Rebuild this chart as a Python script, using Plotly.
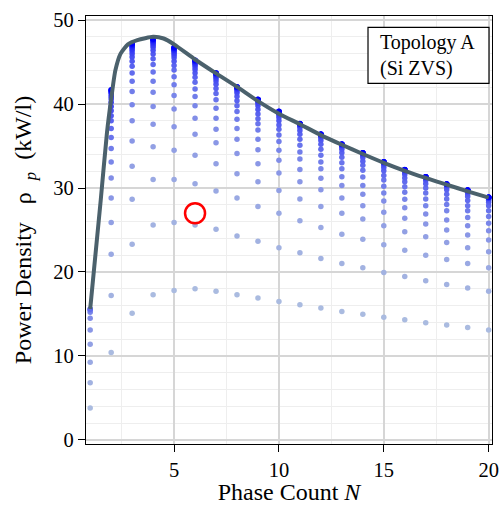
import plotly.graph_objects as go

# ---------------- data ----------------
phase_count = list(range(1, 21))

rho_N01 = [3.8, 6.8, 9.25, 11.4, 13.1, 14.5, 15.2, 15.45, 15.55, 15.6]
rho_N02 = [10.4, 17.2, 22.1, 25.9, 28.8, 31.2, 33.1, 34.7, 36.0, 37.1, 38.0, 38.6, 39.2, 39.7, 40.2, 40.6, 40.9, 41.2, 41.4, 41.55, 41.65, 41.7]
rho_N03 = [15.1, 23.3, 28.65, 32.6, 35.6, 38.0, 39.9, 41.5, 42.7, 43.7, 44.5, 45.1, 45.6, 46.0, 46.3, 46.55, 46.75, 46.9, 47.0, 47.1, 47.15, 47.2]
rho_N04 = [17.3, 25.6, 31.0, 34.9, 37.6, 39.7, 41.4, 42.7, 43.8, 44.7, 45.4, 45.95, 46.4, 46.75, 47.0, 47.2, 47.35, 47.5, 47.6, 47.65, 47.7, 47.75]
rho_N05 = [17.8, 25.9, 31.0, 34.5, 37.3, 39.4, 41.0, 42.3, 43.25, 44.05, 44.6, 45.1, 45.5, 45.8, 46.05, 46.25, 46.4, 46.5, 46.6, 46.65, 46.7, 46.75]
rho_N06 = [18.0, 25.6, 30.5, 33.9, 36.4, 38.3, 39.8, 40.9, 41.8, 42.6, 43.2, 43.7, 44.1, 44.4, 44.65, 44.8, 44.95, 45.05, 45.1, 45.15, 45.2, 45.22]
rho_N07 = [17.7, 25.1, 29.65, 32.9, 35.4, 37.0, 38.3, 39.5, 40.5, 41.25, 41.85, 42.35, 42.75, 43.05, 43.25, 43.4, 43.5, 43.58, 43.62, 43.66, 43.68, 43.7]
rho_N08 = [17.3, 24.3, 28.8, 31.7, 34.1, 35.8, 37.1, 38.2, 39.1, 39.8, 40.4, 40.9, 41.3, 41.55, 41.75, 41.85, 41.92, 41.97, 42.0, 42.02, 42.04, 42.05]
rho_N09 = [16.9, 23.65, 27.8, 30.75, 32.9, 34.55, 35.8, 36.9, 37.65, 38.25, 38.8, 39.35, 39.8, 40.1, 40.3, 40.4, 40.45, 40.5, 40.52, 40.54, 40.55, 40.56]
rho_N10 = [16.5, 22.9, 27.0, 29.7, 31.8, 33.3, 34.5, 35.55, 36.3, 37.0, 37.5, 38.0, 38.4, 38.7, 38.85, 38.95, 39.0, 39.05, 39.08, 39.1, 39.12, 39.14]
rho_N11 = [16.1, 22.3, 26.1, 28.7, 30.75, 32.2, 33.45, 34.3, 35.1, 35.8, 36.4, 36.85, 37.2, 37.4, 37.5, 37.55, 37.6, 37.62, 37.64, 37.65, 37.66, 37.67]
rho_N12 = [15.7, 21.6, 25.3, 27.8, 29.8, 31.15, 32.3, 33.1, 33.9, 34.6, 35.2, 35.65, 35.95, 36.15, 36.25, 36.3, 36.33, 36.36, 36.38, 36.4, 36.41, 36.42]
rho_N13 = [15.3, 21.0, 24.5, 27.0, 28.8, 30.3, 31.35, 32.3, 33.0, 33.65, 34.2, 34.6, 34.85, 35.0, 35.08, 35.13, 35.16, 35.18, 35.2, 35.21, 35.22, 35.23]
rho_N14 = [14.96, 20.5, 23.9, 26.3, 27.9, 29.25, 30.3, 31.3, 32.1, 32.7, 33.2, 33.6, 33.85, 34.0, 34.07, 34.11, 34.14, 34.16, 34.17, 34.18, 34.19, 34.2]
rho_N15 = [14.6, 19.95, 23.25, 25.5, 27.1, 28.45, 29.4, 30.2, 30.95, 31.5, 32.05, 32.45, 32.75, 32.9, 32.98, 33.03, 33.06, 33.08, 33.1, 33.11, 33.12, 33.13]
rho_N16 = [14.3, 19.45, 22.6, 24.8, 26.4, 27.65, 28.65, 29.5, 30.15, 30.75, 31.2, 31.6, 31.85, 32.0, 32.06, 32.1, 32.13, 32.15, 32.16, 32.17, 32.18, 32.19]
rho_N17 = [13.97, 18.96, 22.0, 24.2, 25.7, 26.9, 27.9, 28.7, 29.4, 30.0, 30.5, 30.9, 31.1, 31.2, 31.25, 31.28, 31.3, 31.31, 31.32, 31.33, 31.34, 31.35]
rho_N18 = [13.7, 18.5, 21.5, 23.5, 25.0, 26.2, 27.3, 28.05, 28.7, 29.25, 29.8, 30.1, 30.25, 30.35, 30.4, 30.42, 30.44, 30.45, 30.46, 30.47, 30.48, 30.49]
rho_N19 = [13.4, 18.1, 21.0, 22.9, 24.4, 25.5, 26.5, 27.3, 27.9, 28.5, 29.0, 29.3, 29.5, 29.6, 29.65, 29.68, 29.7, 29.72, 29.73, 29.74, 29.75, 29.76]
rho_N20 = [13.1, 17.7, 20.5, 22.4, 23.8, 24.9, 25.8, 26.6, 27.3, 27.9, 28.3, 28.55, 28.7, 28.78, 28.82, 28.85, 28.87, 28.88, 28.89, 28.9, 28.91, 28.92]

columns = [rho_N01, rho_N02, rho_N03, rho_N04, rho_N05, rho_N06, rho_N07, rho_N08,
           rho_N09, rho_N10, rho_N11, rho_N12, rho_N13, rho_N14, rho_N15, rho_N16,
           rho_N17, rho_N18, rho_N19, rho_N20]

# optimum envelope
curve_N = [1.0, 1.5, 1.8, 2.0, 2.2, 2.45, 2.8, 3.25, 4.0, 4.5, 5.0, 6.0, 7.0, 8.0, 9.0,
           10.0, 11.0, 12.0, 13.0, 14.0, 15.0, 16.0, 17.0, 18.0, 19.0, 20.0]
curve_rho = [15.6, 28.5, 36.6, 40.6, 44.0, 46.0, 47.1, 47.6, 48.0, 47.8, 47.1, 45.3, 43.65,
             42.05, 40.35, 38.85, 37.6, 36.3, 35.15, 34.05, 33.0, 32.05, 31.2, 30.4, 29.6, 28.85]

# highlighted design
marker_N = [6]
marker_rho = [27]

x_tick_vals = [5, 10, 15, 20]
y_tick_vals = [0, 10, 20, 30, 40, 50]
box_text = "Topology A<br>(Si ZVS)"
NB = "\u00a0"
y_title = f"Power Density{NB*3}ρ{NB*2}<sub><i>p</i></sub>{NB*2}(kW/l)"

# ---------------- build ----------------
xs, ys, ks = [], [], []
for n, col in zip(phase_count, columns):
    for k, v in enumerate(col):
        xs.append(n)
        ys.append(v)
        ks.append(k)

FONT = "Liberation Serif, Times New Roman, DejaVu Serif, serif"

fig = go.Figure()
fig.add_trace(go.Scatter(
    x=xs, y=ys, mode="markers",
    marker=dict(size=5.5, color=ks, cmin=0, cmax=21,
                colorscale=[[0, "#aabbe0"], [1, "#0000ff"]],
                showscale=False, line=dict(width=0)),
    hoverinfo="skip", showlegend=False))
fig.add_trace(go.Scatter(
    x=curve_N, y=curve_rho, mode="lines",
    line=dict(color="#4b616c", width=4, shape="spline", smoothing=0.6),
    showlegend=False))
fig.add_trace(go.Scatter(
    x=marker_N, y=marker_rho, mode="markers",
    marker=dict(symbol="circle-open", size=20, color="#ff0000",
                line=dict(width=2.5, color="#ff0000")),
    showlegend=False))

fig.add_shape(type="rect", xref="paper", yref="paper",
              x0=0.6946, x1=0.9926, y0=0.8428, y1=0.9736,
              line=dict(color="black", width=1.2), fillcolor="white", layer="above")
fig.add_annotation(text=box_text, xref="paper", yref="paper", x=0.7192, y=0.9082,
                   xanchor="left", yanchor="middle", align="left", showarrow=False,
                   font=dict(family=FONT, size=20, color="black"))

axis_common = dict(
    showline=True, linecolor="black", linewidth=1.3, mirror=True,
    ticks="outside", ticklen=7, tickwidth=1.2, tickcolor="black",
    tickfont=dict(family=FONT, size=20.5, color="black"),
    showgrid=True, gridcolor="#d6d6d6", gridwidth=1.6, zeroline=False,
)

fig.update_xaxes(
    range=[0.8, 20.16], tickvals=x_tick_vals,
    minor=dict(dtick=2.5, tick0=0, showgrid=True, gridcolor="#eeeeee", gridwidth=1, ticks=""),
    title=dict(text="Phase Count <i>N</i>", font=dict(family=FONT, size=24, color="black"),
               standoff=10),
    **axis_common)
fig.update_yaxes(
    range=[-0.48, 50.48], tickvals=y_tick_vals,
    minor=dict(dtick=2, tick0=0, showgrid=True, gridcolor="#eeeeee", gridwidth=1, ticks=""),
    title=dict(text=y_title,
               font=dict(family=FONT, size=24, color="black"), standoff=14),
    **axis_common)

fig.update_layout(
    width=502, height=505,
    margin=dict(l=86, r=10, t=16, b=61, autoexpand=False),
    plot_bgcolor="white", paper_bgcolor="white",
    font=dict(family=FONT, color="black"),
    showlegend=False,
)

fig.write_html("out.html")
